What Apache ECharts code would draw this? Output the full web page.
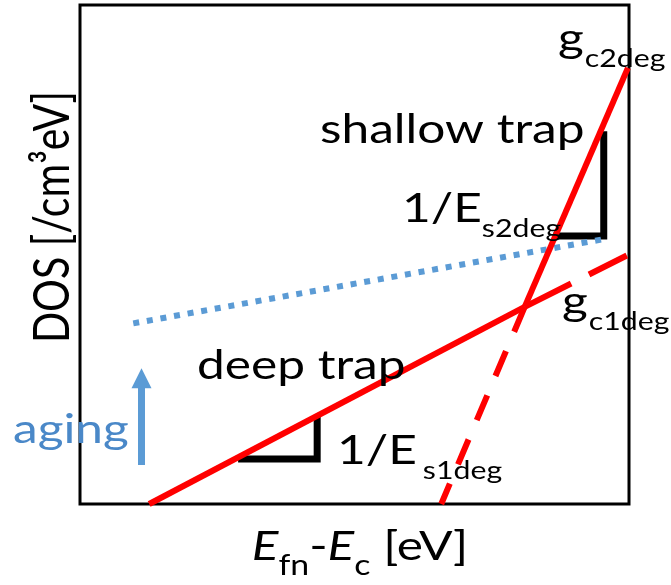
<!DOCTYPE html>
<html>
<head>
<meta charset="utf-8">
<script src="https://cdn.jsdelivr.net/npm/echarts@6/dist/echarts.min.js"></script>
<style>
  html, body { margin: 0; padding: 0; background: #fff; }
  #chart { width: 671px; height: 585px; }
</style>
</head>
<body>
<div id="chart"></div>
<script>
// Axis extents in arbitrary units (schematic plot, no ticks)
const xRange = [0, 10];
const yRange = [0, 10];

// Deep-trap tail g_c1deg: solid up to the crossing, dashed beyond it
const deepSolid = [[1.26, 0], [8.10, 3.95]];
const deepDashed = [[8.10, 3.95], [9.96, 4.98]];
// Shallow-trap tail g_c2deg: solid above the crossing, dashed below it
const shallowSolid = [[9.98, 8.74], [8.10, 3.95]];
const shallowDashed = [[8.10, 3.95], [6.58, 0]];
// Tail after aging (dotted)
const agedTail = [[0.97, 3.62], [9.55, 5.31]];
// Slope triangles
const slopeDeep = [[2.88, 0.90], [4.32, 0.90], [4.32, 1.78]];
const slopeShallow = [[8.62, 5.37], [9.54, 5.37], [9.54, 7.47]];
// Aging arrow (shaft start, head centre)
const agingArrow = [[1.12, 0.78], [1.12, 2.52]];

// Text
const xTitle = [['E', 'it'], ['fn', 'sub'], ['-', ''], ['E', 'it'], ['c', 'sub'], [' [eV]', '']];
const yTitle = 'DOS [/cm³eV]';
const txtShallow = 'shallow trap';
const txtDeep = 'deep trap';
const txtAging = 'aging';
const txtSlope1 = [['1/E', ''], ['s1deg', 'sub']];
const txtSlope2 = [['1/E', ''], ['s2deg', 'sub']];
const txtG1 = [['g', ''], ['c1deg', 'sub']];
const txtG2 = [['g', ''], ['c2deg', 'sub']];

const FONT = 'Lato';
const MAIN = 41, SUB = 25, SUB_DROP = 14, SX = 1.21;
const MID = 0.387; // em-box middle above the baseline
const RED = '#ff0000', BLUE = '#5b9bd5', INK = '#000000';

const ctx2d = document.createElement('canvas').getContext('2d');
function fontOf(size, italic) { return (italic ? 'italic ' : '') + size + 'px ' + FONT; }
function widthOf(str, size, italic) { ctx2d.font = fontOf(size, italic); return ctx2d.measureText(str).width; }

// Lay a run of pieces on one baseline, left-aligned at x (or centred on x);
// subGap adds space before a subscript piece
function run(pieces, x, baseline, color, centre, subGap, subSize) {
  const specs = pieces.map(([t, kind]) => {
    const size = kind === 'sub' ? (subSize || SUB) : MAIN;
    const italic = kind === 'it';
    const gap = kind === 'sub' ? (subGap || 0) : 0;
    return { t, size, italic, sub: kind === 'sub', gap, w: widthOf(t, size, italic) * SX };
  });
  const total = specs.reduce((s, p) => s + p.w + p.gap, 0);
  let cx = centre ? x - total / 2 : x;
  return specs.map(p => {
    cx += p.gap;
    const base = baseline + (p.sub ? SUB_DROP : 0);
    const el = {
      type: 'text', x: cx, y: base - MID * p.size, scaleX: SX, silent: true, z: 100,
      style: { text: p.t, font: fontOf(p.size, p.italic), fill: color,
               align: 'left', verticalAlign: 'middle', textAlign: 'left', textVerticalAlign: 'middle' }
    };
    cx += p.w;
    return el;
  });
}

function lineSeries(data, color, width, type, z) {
  return {
    type: 'line', data, showSymbol: false, symbol: 'none', silent: true, clip: false, z,
    lineStyle: { color, width, type: type || 'solid', cap: 'butt', join: 'miter' }
  };
}

const chart = echarts.init(document.getElementById('chart'));
chart.setOption({
  animation: false,
  backgroundColor: '#ffffff',
  grid: { left: 80, right: 42, top: 5, bottom: 81, show: true, borderColor: '#000', borderWidth: 3, backgroundColor: 'transparent' },
  xAxis: { type: 'value', min: xRange[0], max: xRange[1], show: false },
  yAxis: { type: 'value', min: yRange[0], max: yRange[1], show: false },
  series: [
    lineSeries(slopeDeep, INK, 7, 'solid', 2),
    lineSeries(slopeShallow, INK, 7, 'solid', 2),
    lineSeries(agedTail, BLUE, 6, [6, 7.8], 3),
    lineSeries(deepSolid, RED, 6, 'solid', 4),
    lineSeries(deepDashed, RED, 6, [52, 20], 4),
    lineSeries(shallowSolid, RED, 6, 'solid', 4),
    lineSeries(shallowDashed, RED, 6, [27, 21], 4),
    {
      type: 'lines', coordinateSystem: 'cartesian2d', silent: true, z: 3,
      symbol: ['none', 'triangle'], symbolSize: 20,
      lineStyle: { color: BLUE, width: 7, opacity: 1, curveness: 0 },
      data: [{ coords: agingArrow }]
    }
  ],
  graphic: [
    ...run([[txtShallow, '']], 320, 146, INK),
    ...run([[txtDeep, '']], 197, 382, INK),
    ...run([[txtAging, '']], 13, 446, '#4a88c8'),
    ...run(txtSlope1, 337, 467, INK, false, 6),
    ...run(txtSlope2, 402, 225, INK),
    ...run(txtG2, 558, 55, INK, false, 1),
    ...run(txtG1, 562, 318, INK, false, 1),
    ...run(xTitle, 360, 563, INK, true, 0, 28),
    {
      type: 'text', x: 53, y: 217, rotation: Math.PI / 2, scaleY: SX, silent: true, z: 100,
      style: { text: yTitle, font: fontOf(MAIN, false), fill: INK,
               align: 'center', verticalAlign: 'middle', textAlign: 'center', textVerticalAlign: 'middle' }
    }
  ]
});
</script>
</body>
</html>
